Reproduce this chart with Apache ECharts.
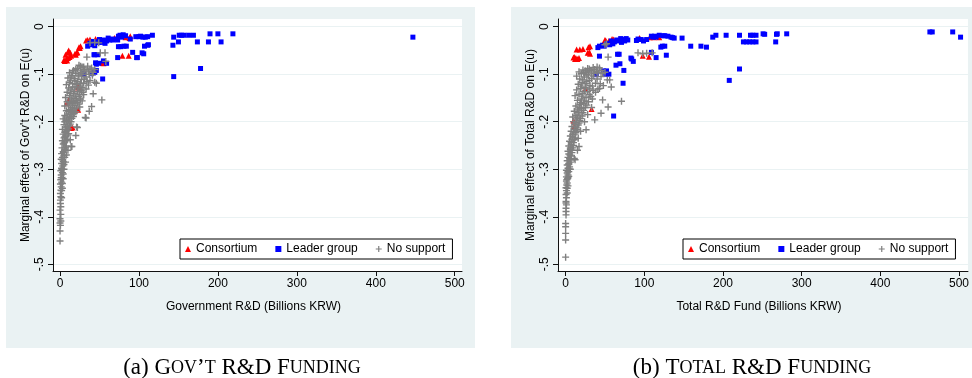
<!DOCTYPE html>
<html><head><meta charset="utf-8">
<script src="https://cdn.jsdelivr.net/npm/echarts@6/dist/echarts.min.js"></script>
<style>html,body{margin:0;padding:0;background:#fff}#c{width:972px;height:378px}</style>
</head><body><div id="c"></div>
<script>
const seriesNames = ['Consortium', 'Leader group', 'No support'];
const xTickValues = [0, 100, 200, 300, 400, 500];
const yTickValues = [0, -0.1, -0.2, -0.3, -0.4, -0.5];
const yTickLabels = ['0', '-.1', '-.2', '-.3', '-.4', '-.5'];
const xTitles = ['Government R&D (Billions KRW)', 'Total R&D Fund (Billions KRW)'];
const yTitles = ["Marginal effect of Gov't R&D on E(u)", 'Marginal effect of Total R&D on E(u)'];
const captionLabels = ['(a)', '(b)'];
const captionTitles = ['Gov\u2019t R&D Funding', 'Total R&D Funding'];

// Panel (a): Government R&D
const govConsortium = [
[8,-0.068],[6,-0.072],[10,-0.066],[12,-0.064],[14,-0.061],[11,-0.050],[10,-0.054],[7,-0.059],[5,-0.070],[9,-0.071],
[19,-0.057],[22,-0.054],[20,-0.059],[24,-0.043],[26,-0.041],[25,-0.045],[21,-0.055],[13,-0.055],[33,-0.029],[38,-0.027],
[45,-0.026],[35,-0.028],[69,-0.024],[82,-0.019],[89,-0.020],[83,-0.022],[88,-0.024],[79,-0.061],[87,-0.061],[54,-0.076],
[55,-0.077],[23,-0.126],[23,-0.128],[23,-0.175],[14,-0.213],[8,-0.217],[11,-0.154],[16,-0.212],[8.5,-0.161]
];
const govLeader = [
[447,-0.022],[219,-0.015],[200,-0.015],[190,-0.015],[204,-0.032],[188,-0.032],[174,-0.032],[169,-0.018],[163,-0.018],[154,-0.018],
[151,-0.018],[157,-0.018],[144,-0.022],[150,-0.032],[143,-0.039],[178,-0.088],[144,-0.105],[117,-0.018],[111,-0.021],[105,-0.022],
[100,-0.021],[96,-0.021],[108,-0.022],[102,-0.020],[111,-0.039],[107,-0.041],[106,-0.057],[98,-0.065],[92,-0.054],[89,-0.026],
[83,-0.019],[80,-0.017],[76,-0.018],[74,-0.020],[78,-0.022],[71,-0.026],[73,-0.028],[81,-0.041],[84,-0.041],[73,-0.065],
[67,-0.028],[63,-0.028],[59,-0.030],[57,-0.035],[52,-0.033],[49,-0.033],[46,-0.032],[42,-0.031],[38,-0.035],[35,-0.041],
[40,-0.038],[44,-0.040],[48,-0.059],[44,-0.059],[46,-0.079],[46,-0.092],[44,-0.096],[40,-0.099],[29,-0.099],[55,-0.072],
[59,-0.077],[54,-0.110],[30,-0.100],[112,-0.038],[104,-0.055],[97,-0.065],[74,-0.042],[77,-0.042],[43,-0.059],[45,-0.076],
[49,-0.077],[42,-0.096],[65,-0.026],[61,-0.024],[55,-0.028],[50,-0.027]
];
const govNoSupport = [
[0,-0.451],[0,-0.430],[0.5,-0.418],[0,-0.413],[1,-0.409],[0,-0.386],[1,-0.379],[0.5,-0.372],[0.5,-0.365],[1,-0.358],
[0.5,-0.351],[1,-0.344],[1.5,-0.337],[0.5,-0.331],[2,-0.327],[1,-0.322],[2.5,-0.317],[1.5,-0.312],[3,-0.307],[1,-0.303],
[2,-0.298],[3.5,-0.293],[2,-0.288],[4,-0.284],[1.5,-0.279],[3,-0.275],[5,-0.271],[2,-0.267],[4,-0.263],[6,-0.259],
[2.5,-0.255],[8,-0.251],[15,-0.252],[4,-0.247],[6,-0.243],[3,-0.240],[9,-0.237],[5,-0.234],[7,-0.230],[4,-0.226],
[11,-0.225],[6,-0.222],[9,-0.218],[3,-0.216],[21,-0.211],[7,-0.213],[12,-0.209],[5,-0.206],[10,-0.203],[14,-0.200],
[8,-0.197],[4,-0.194],[12,-0.192],[17,-0.189],[32,-0.191],[6,-0.187],[10,-0.184],[15,-0.181],[20,-0.179],[8,-0.177],
[37,-0.178],[13,-0.174],[18,-0.171],[25,-0.169],[6,-0.167],[40,-0.168],[11,-0.165],[16,-0.162],[22,-0.160],[9,-0.158],
[28,-0.156],[14,-0.154],[53,-0.154],[19,-0.151],[7,-0.149],[24,-0.147],[12,-0.145],[30,-0.143],[42,-0.141],[17,-0.141],
[9,-0.138],[22,-0.137],[27,-0.134],[14,-0.133],[33,-0.131],[11,-0.129],[19,-0.127],[25,-0.125],[36,-0.123],[46,-0.119],
[8,-0.122],[16,-0.120],[30,-0.119],[44,-0.117],[22,-0.116],[13,-0.114],[38,-0.113],[27,-0.111],[18,-0.109],[10,-0.108],
[33,-0.106],[24,-0.104],[15,-0.103],[41,-0.102],[29,-0.100],[20,-0.098],[12,-0.097],[36,-0.095],[26,-0.093],[17,-0.092],
[31,-0.090],[22,-0.088],[40,-0.087],[28,-0.085],[35,-0.083],[24,-0.081],[44,-0.090],[38,-0.034],[44,-0.033],[49,-0.034],
[34,-0.064],[51,-0.055],[57,-0.055],[58,-0.073],[33,-0.192],[22,-0.212],[14,-0.252],[20,-0.229],[13,-0.238],[10,-0.260],
[8,-0.270],[7,-0.285],[5,-0.300],[4,-0.320],[3,-0.340],[2,-0.360],[1,-0.395],[0,-0.404],
[2,-0.345],[3,-0.330],[1.5,-0.318],[4,-0.310],[2.5,-0.300],[5,-0.290],[3,-0.280],[6,-0.275],[4.5,-0.265],[7,-0.255],
[5,-0.245],[8,-0.240],[6,-0.232],[10,-0.228],[7.5,-0.220],[11,-0.215],[9,-0.210],[13,-0.205],[6,-0.200],[11,-0.196],
[15,-0.193],[9,-0.190],[13,-0.185],[18,-0.183],[11,-0.178],[16,-0.176],[21,-0.173],[14,-0.170],[19,-0.166],[24,-0.163],
[12,-0.160],[17,-0.157],[21,-0.155],[26,-0.152],[15,-0.150],[20,-0.146],[25,-0.143],[13,-0.140],[18,-0.136],[29,-0.138],
[23,-0.131],[16,-0.127],[28,-0.128],[21,-0.122],[12,-0.118],[26,-0.119],[34,-0.116],[19,-0.113],[31,-0.110],[14,-0.106],
[23,-0.102],[37,-0.100],[16,-0.095],[27,-0.097],[33,-0.093],[20,-0.090],[30,-0.085],[26,-0.083],[38,-0.090],[42,-0.096]
];

// Panel (b): Total R&D fund
const totConsortium = [
[11,-0.064],[13,-0.066],[15,-0.068],[17,-0.066],[12,-0.068],[10,-0.065],[14,-0.048],[18,-0.048],[22,-0.047],[29,-0.043],
[31,-0.041],[28,-0.055],[30,-0.054],[31,-0.057],[50,-0.028],[51,-0.029],[59,-0.026],[61,-0.027],[55,-0.030],[112,-0.022],
[107,-0.022],[94,-0.024],[119,-0.022],[98,-0.061],[106,-0.063],[33,-0.173],[11,-0.210],[10,-0.198],[25,-0.131]
];
const totLeader = [
[463,-0.011],[466,-0.011],[492,-0.011],[502,-0.022],[281,-0.015],[269,-0.015],[268,-0.016],[267,-0.032],[253,-0.016],[251,-0.015],
[242,-0.018],[238,-0.018],[235,-0.018],[221,-0.018],[204,-0.018],[191,-0.018],[187,-0.022],[226,-0.032],[230,-0.032],[234,-0.032],
[238,-0.032],[242,-0.032],[221,-0.089],[208,-0.113],[179,-0.043],[172,-0.041],[159,-0.041],[148,-0.024],[138,-0.024],[134,-0.022],
[130,-0.020],[126,-0.019],[119,-0.018],[124,-0.019],[115,-0.022],[111,-0.022],[109,-0.020],[123,-0.041],[126,-0.041],[121,-0.043],
[128,-0.060],[115,-0.065],[109,-0.054],[103,-0.027],[96,-0.027],[92,-0.026],[90,-0.029],[86,-0.073],[83,-0.066],[84,-0.068],
[75,-0.030],[73,-0.027],[71,-0.033],[67,-0.030],[62,-0.032],[58,-0.030],[74,-0.092],[73,-0.119],[69,-0.078],[64,-0.081],
[66,-0.058],[68,-0.058],[55,-0.100],[51,-0.100],[48,-0.093],[52,-0.093],[43,-0.062],[41,-0.044],[47,-0.039],[52,-0.036],
[54,-0.035],[61,-0.188],[49,-0.041],[56,-0.038],[60,-0.036],[65,-0.028],[70,-0.025],[77,-0.025],[79,-0.028],[99,-0.030],
[113,-0.020],[136,-0.023],[39,-0.101],[43,-0.041]
];
const totNoSupport = [
[0,-0.485],[0,-0.449],[0,-0.435],[0,-0.421],[0,-0.414],[0.5,-0.396],[0.5,-0.389],[0.5,-0.382],[1,-0.375],[0.5,-0.371],
[0.5,-0.368],[1,-0.360],[0.5,-0.353],[1,-0.345],[0.5,-0.339],[1.5,-0.333],[2,-0.329],[1,-0.325],[2.5,-0.320],[1,-0.316],
[3,-0.312],[2,-0.308],[4,-0.305],[1,-0.302],[3,-0.298],[5,-0.295],[2,-0.291],[4,-0.288],[6,-0.285],[2,-0.282],
[5,-0.278],[11,-0.277],[3,-0.275],[7,-0.272],[4,-0.268],[8,-0.265],[3,-0.262],[6,-0.258],[9,-0.255],[17,-0.252],
[4,-0.251],[7,-0.248],[10,-0.244],[5,-0.241],[8,-0.237],[12,-0.234],[6,-0.230],[9,-0.227],[13,-0.223],[7,-0.220],
[26,-0.217],[11,-0.216],[15,-0.213],[8,-0.210],[12,-0.206],[17,-0.203],[10,-0.200],[14,-0.196],[37,-0.196],[19,-0.193],
[9,-0.190],[13,-0.187],[17,-0.184],[22,-0.181],[45,-0.182],[11,-0.178],[15,-0.175],[20,-0.172],[25,-0.170],[54,-0.169],
[13,-0.167],[18,-0.164],[23,-0.161],[29,-0.158],[47,-0.154],[71,-0.157],[15,-0.155],[20,-0.152],[26,-0.149],[32,-0.147],
[12,-0.145],[17,-0.142],[22,-0.140],[28,-0.137],[35,-0.134],[14,-0.133],[19,-0.130],[43,-0.130],[25,-0.128],[58,-0.127],
[48,-0.124],[31,-0.124],[16,-0.121],[21,-0.118],[38,-0.119],[27,-0.115],[53,-0.112],[56,-0.112],[18,-0.110],[33,-0.109],
[24,-0.106],[45,-0.105],[14,-0.104],[29,-0.102],[20,-0.099],[36,-0.098],[26,-0.096],[47,-0.098],[17,-0.095],[39,-0.094],
[31,-0.092],[22,-0.091],[43,-0.087],[28,-0.088],[35,-0.086],[25,-0.093],[50,-0.096],[52,-0.036],[50,-0.038],[54,-0.064],
[92,-0.055],[98,-0.057],[103,-0.056],[110,-0.055],[41,-0.131],[33,-0.170],[28,-0.185],[24,-0.200],[19,-0.220],[16,-0.235],
[15,-0.260],[12,-0.280],[3,-0.318],[2,-0.340],[6,-0.300],
[2,-0.350],[3,-0.335],[1.5,-0.322],[4,-0.315],[3,-0.305],[5,-0.300],[4,-0.290],[7,-0.280],[5.5,-0.270],[8,-0.260],
[6,-0.255],[10,-0.250],[7,-0.244],[11,-0.238],[9,-0.232],[12,-0.226],[10,-0.221],[14,-0.217],[12,-0.211],[16,-0.207],
[13,-0.202],[18,-0.198],[15,-0.192],[21,-0.188],[16,-0.180],[23,-0.176],[18,-0.170],[27,-0.165],[19,-0.160],[24,-0.156],
[34,-0.152],[21,-0.146],[30,-0.143],[24,-0.136],[38,-0.138],[30,-0.131],[20,-0.125],[34,-0.125],[26,-0.120],[44,-0.120],
[30,-0.113],[22,-0.112],[40,-0.110],[35,-0.104],[27,-0.100],[41,-0.097],[33,-0.095],[23,-0.097],[30,-0.089],[37,-0.090],
[45,-0.092],[40,-0.085]
];

const panels = [
  {cons: govConsortium, lead: govLeader, none: govNoSupport},
  {cons: totConsortium, lead: totLeader, none: totNoSupport}
];

const FONT = 'Liberation Sans, Arial, sans-serif';
const SERIF = 'Liberation Serif, Times New Roman, serif';
const PLUS = 'path://M2.8,0h1.4v2.8h2.8v1.4h-2.8v2.8h-1.4v-2.8h-2.8v-1.4h2.8z';
const BG = '#eaf2f3';

const layout = [
  {bg: [6, 7, 469, 341], grid: {left: 53, top: 19, width: 409, height: 252}, xmin: -8.9, xmax: 509.2, legend: {left: 180, top: 239}, cap: [242, 368]},
  {bg: [511, 7, 461, 341], grid: {left: 558, top: 19, width: 410, height: 252}, xmin: -9.7, xmax: 511.4, legend: {left: 683, top: 239}, cap: [752, 368]}
];

function smallCaps(s) {
  let out = '', cur = null, buf = '';
  for (const ch of s) {
    const small = ch >= 'a' && ch <= 'z';
    const k = small ? 's' : 'b';
    if (k !== cur && buf) { out += '{' + cur + '|' + buf + '}'; buf = ''; }
    cur = k; buf += small ? ch.toUpperCase() : ch;
  }
  if (buf) out += '{' + cur + '|' + buf + '}';
  return out;
}

const axisColor = '#111';
const option = {
  backgroundColor: '#fff',
  animation: false,
  textStyle: {fontFamily: FONT},
  graphic: [],
  grid: [], xAxis: [], yAxis: [], legend: [], series: []
};

layout.forEach((L, i) => {
  option.graphic.push({type: 'rect', z: -10, silent: true, shape: {x: L.bg[0], y: L.bg[1], width: L.bg[2], height: L.bg[3]}, style: {fill: BG}});
  option.graphic.push({type: 'text', silent: true, x: L.cap[0], y: L.cap[1],
    style: {text: '{b|' + captionLabels[i] + ' }' + smallCaps(captionTitles[i]), align: 'center', verticalAlign: 'middle', textAlign: 'center', textVerticalAlign: 'middle',
      rich: {b: {fontFamily: SERIF, fontSize: 23, fill: '#000'}, s: {fontFamily: SERIF, fontSize: 18, fill: '#000'}}}});
  option.grid.push(Object.assign({show: true, backgroundColor: '#fff', borderWidth: 0}, L.grid));
  option.xAxis.push({
    gridIndex: i, type: 'value', min: L.xmin, max: L.xmax,
    axisLine: {show: true, onZero: false, lineStyle: {color: axisColor, width: 1}},
    axisTick: {show: true, length: 5, customValues: xTickValues, lineStyle: {color: axisColor}},
    axisLabel: {customValues: xTickValues, margin: 7, fontSize: 12, color: '#000', fontFamily: FONT},
    splitLine: {show: false},
    name: xTitles[i], nameLocation: 'middle', nameGap: 30,
    nameTextStyle: {fontSize: 12, color: '#000', fontFamily: FONT, padding: [0, 8, 0, 0]}
  });
  option.yAxis.push({
    gridIndex: i, type: 'value', min: -0.5141, max: 0.0162,
    axisLine: {show: true, onZero: false, lineStyle: {color: axisColor, width: 1}},
    axisTick: {show: true, length: 5, customValues: yTickValues, lineStyle: {color: axisColor}},
    axisLabel: {customValues: yTickValues, rotate: 90, margin: 7, fontSize: 12, color: '#000', fontFamily: FONT,
      formatter: v => yTickLabels[yTickValues.findIndex(t => Math.abs(t - v) < 1e-9)] },
    splitLine: {show: true, lineStyle: {color: BG, width: 1}},
    name: yTitles[i], nameLocation: 'middle', nameGap: 21,
    nameTextStyle: {fontSize: 12, color: '#000', fontFamily: FONT}
  });
  option.legend.push({
    left: L.legend.left, top: L.legend.top, orient: 'horizontal',
    backgroundColor: '#fff', borderColor: '#000', borderWidth: 1, padding: [4, 7, 4, 5],
    itemWidth: 6, itemHeight: 6, itemGap: 18, selectedMode: false,
    textStyle: {fontSize: 12, color: '#000', fontFamily: FONT},
    data: [
      {name: seriesNames[0], icon: 'triangle', itemStyle: {color: '#ff0000'}},
      {name: seriesNames[1], icon: 'rect', itemStyle: {color: '#0000ff'}},
      {name: seriesNames[2], icon: PLUS, itemStyle: {color: '#808080'}}
    ]
  });
  const P = panels[i];
  option.series.push(
    {name: seriesNames[0], type: 'scatter', xAxisIndex: i, yAxisIndex: i, data: P.cons, symbol: 'triangle', symbolSize: 6, itemStyle: {color: '#ff0000', opacity: 1}},
    {name: seriesNames[1], type: 'scatter', xAxisIndex: i, yAxisIndex: i, data: P.lead, symbol: 'rect', symbolSize: 5, itemStyle: {color: '#0000ff', opacity: 1}},
    {name: seriesNames[2], type: 'scatter', xAxisIndex: i, yAxisIndex: i, data: P.none, symbol: PLUS, symbolSize: 7, itemStyle: {color: '#808080', opacity: 1}}
  );
});

const chart = echarts.init(document.getElementById('c'), null, {renderer: 'canvas'});
chart.setOption(option);
</script>
</body></html>
